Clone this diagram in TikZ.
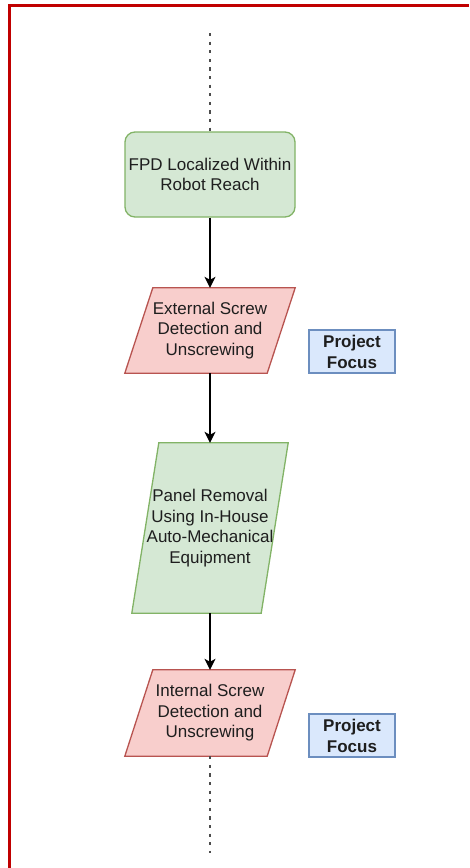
\documentclass[tikz,border=0pt]{standalone}
\usepackage{fontspec}
\setmainfont{Liberation Sans}
\usetikzlibrary{arrows.meta,backgrounds,calc}
\definecolor{gfill}{HTML}{D5E8D4}
\definecolor{gline}{HTML}{82B366}
\definecolor{rfill}{HTML}{F8CECC}
\definecolor{rline}{HTML}{B85450}
\definecolor{bfill}{HTML}{DAE8FC}
\definecolor{bline}{HTML}{6C8EBF}
\definecolor{frame}{HTML}{C00000}
\definecolor{txt}{HTML}{1E1E1E}
\tikzset{
  lbl/.style={align=center, inner sep=0pt, text=txt,
    font=\fontsize{17pt}{20.5pt}\selectfont},
  startbox/.style={lbl, draw=gline, fill=gfill, line width=1.3pt,
    rounded corners=10pt, minimum width=170pt, minimum height=85pt},
  paraslot/.style={lbl, minimum width=#1},
  focusbox/.style={lbl, draw=bline, fill=bfill, line width=1.3pt,
    minimum width=86pt, minimum height=43pt,
    font=\fontsize{17pt}{21pt}\selectfont\bfseries},
  flow/.style={draw=black, line width=1.3pt,
    -{Stealth[length=11pt,width=11pt,inset=3pt]}},
  dotline/.style={draw=black!70, line width=1.8pt, dash pattern=on 3.2pt off 5.4pt},
  paraedge/.style={line width=1.3pt}
}
\newcommand{\paragram}[4]{% node, skew, fill, line
  \begin{scope}[on background layer]
    \draw[paraedge, draw=#4, fill=#3]
      ($(#1.north west)+(#2,0)$) -- (#1.north east) --
      ($(#1.south east)-(#2,0)$) -- (#1.south west) -- cycle;
  \end{scope}}
\begin{document}
\begin{tikzpicture}[x=1pt,y=1pt]
  \useasboundingbox (0,0) rectangle (469,-868);
  \begin{scope}[on background layer]
    \fill[white] (0,0) rectangle (469,-868);
  \end{scope}
  % frame
  \draw[frame, line width=3pt] (9.5,-868) -- (9.5,-5) -- (469,-5);

  \coordinate (topend) at (210,-33);
  \coordinate (botend) at (210,-853);

  \node[startbox] (fpd) at (210,-174.5) {FPD Localized Within\\Robot Reach};

  \node[paraslot=170pt, minimum height=85pt] (ext) at (210,-330.5)
    {External Screw\\Detection and\\Unscrewing};
  \paragram{ext}{28}{rfill}{rline}

  \node[paraslot=156pt, minimum height=170pt] (panel) at (210,-528)
    {Panel Removal\\Using In-House\\Auto-Mechanical\\Equipment};
  \paragram{panel}{27}{gfill}{gline}

  \node[paraslot=170pt, minimum height=86pt] (int) at (210,-713)
    {Internal Screw\\Detection and\\Unscrewing};
  \paragram{int}{28}{rfill}{rline}

  \node[focusbox] (pf1) at (352,-351.5) {Project\\Focus};
  \node[focusbox] (pf2) at (352,-735.5) {Project\\Focus};

  \draw[dotline] (topend) -- (fpd.north);
  \draw[flow] (fpd.south) -- (ext.north);
  \draw[flow] (ext.south) -- (panel.north);
  \draw[flow] (panel.south) -- (int.north);
  \draw[dotline] (int.south) -- (botend);
\end{tikzpicture}
\end{document}
